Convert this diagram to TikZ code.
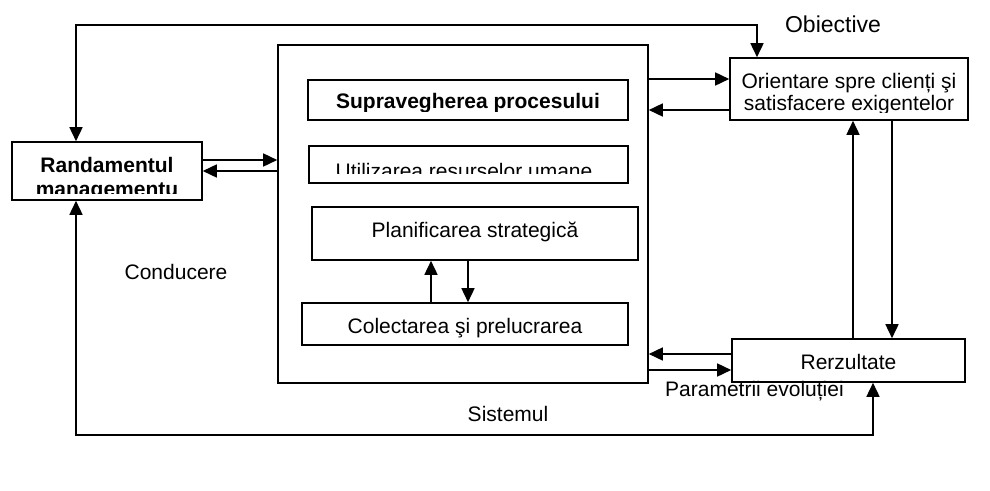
\documentclass[tikz,border=0pt]{standalone}
\usepackage{fontspec}
\setmainfont{Liberation Sans}
\usetikzlibrary{arrows.meta}
\begin{document}
\begin{tikzpicture}[x=1pt,y=-1pt,
  boxst/.style={draw, line width=1.6pt, inner sep=0pt},
  txt/.style={font=\fontsize{21}{25}\selectfont, inner sep=0pt, anchor=base},
  txtb/.style={font=\fontsize{21}{25}\selectfont\bfseries, inner sep=0pt, anchor=base},
  arr/.style={line width=1.6pt, -{Triangle[length=14pt,width=13pt]}},
  arrboth/.style={line width=1.6pt, {Triangle[length=14pt,width=13pt]}-{Triangle[length=14pt,width=13pt]}}
]
\useasboundingbox (0,0) rectangle (990,490);
% boxes
\node[boxst, minimum width=190pt, minimum height=58pt] (rand) at (107,171) {};
\node[boxst, minimum width=370pt, minimum height=338pt] (sist) at (463,214) {};
\node[boxst, minimum width=320pt, minimum height=40pt] (sup) at (468,100) {};
\node[boxst, minimum width=319pt, minimum height=37pt] (util) at (468.5,164.5) {};
\node[boxst, minimum width=326pt, minimum height=53pt] (plan) at (475,233.5) {};
\node[boxst, minimum width=326pt, minimum height=42pt] (col) at (465,324) {};
\node[boxst, minimum width=238pt, minimum height=62pt] (orient) at (849,89) {};
\node[boxst, minimum width=233pt, minimum height=43pt] (rez) at (848.5,360.5) {};
% clipped texts
\begin{scope}
\clip (rand.north west) rectangle (rand.east |- 0,193);
\node[txtb] (trand1) at (107,172) {Randamentul};
\node[txtb] (trand2) at (107,196) {managementu};
\end{scope}
\begin{scope}
\clip (sup.north west) rectangle (sup.east |- 0,111);
\node[txtb] (tsup) at (468,108) {Supravegherea procesului};
\end{scope}
\begin{scope}
\clip (util.north west) rectangle (util.east |- 0,173);
\node[txt] (tutil) at (464,178) {Utilizarea resurselor umane};
\end{scope}
\begin{scope}
\clip (orient.north west) rectangle (orient.east |- 0,112);
\node[txt] (tor1) at (849,88) {Orientare spre clienți şi};
\node[txt] (tor2) at (849,110) {satisfacere exigentelor};
\end{scope}
\node[txt] (tplan) at (475,237) {Planificarea strategică};
\node[txt] (tcol) at (465,333) {Colectarea şi prelucrarea};
\node[txt] (trez) at (848.5,369) {Rerzultate};
% free labels
\node[font=\fontsize{23}{27}\selectfont, inner sep=0pt, anchor=base] (obj) at (833,32) {Obiective};
\node[txt] (cond) at (176,279) {Conducere};
\node[txt] (sistl) at (508,421) {Sistemul};
\node[txt, anchor=base west] (param) at (665,396) {Parametrii evoluției};
% connectors
\draw[arrboth] (rand.north -| 76,0) -- (76,25) -- (757,25) -- (orient.north -| 757,0);
\draw[arrboth] (rand.south -| 76,0) -- (76,435) -- (873,435) -- (rez.south -| 873,0);
\draw[arr] (rand.east |- 0,160) -- (sist.west |- 0,160);
\draw[arr] (sist.west |- 0,171) -- (rand.east |- 0,171);
\draw[arr] (sist.east |- 0,79) -- (orient.west |- 0,79);
\draw[arr] (orient.west |- 0,110) -- (sist.east |- 0,110);
\draw[arr] (rez.west |- 0,354) -- (sist.east |- 0,354);
\draw[arr] (sist.east |- 0,370) -- (rez.west |- 0,370);
\draw[arr] (rez.north -| 853,0) -- (orient.south -| 853,0);
\draw[arr] (orient.south -| 892,0) -- (rez.north -| 892,0);
\draw[arr] (col.north -| 431,0) -- (plan.south -| 431,0);
\draw[arr] (plan.south -| 468,0) -- (col.north -| 468,0);
\end{tikzpicture}
\end{document}
